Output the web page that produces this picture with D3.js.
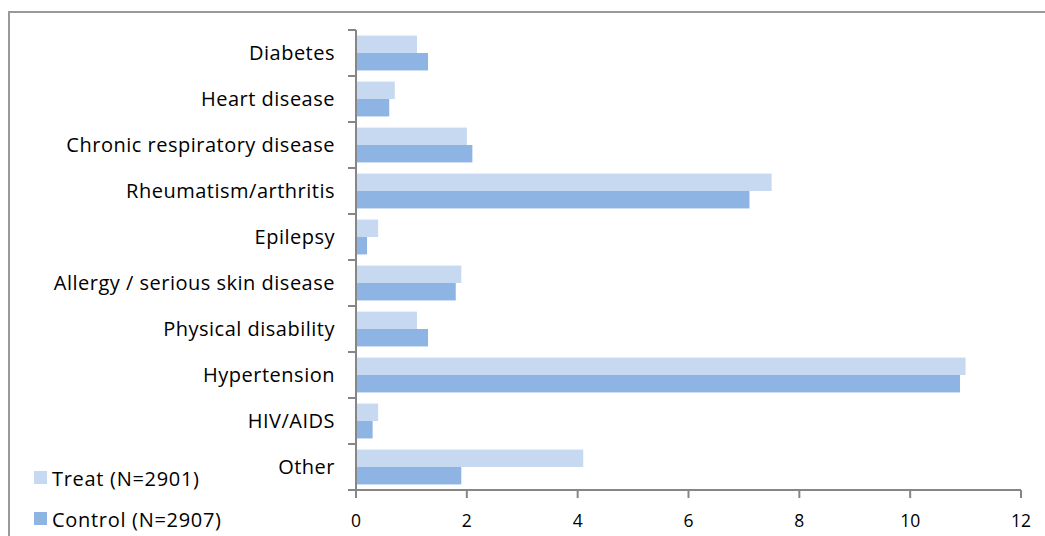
<!DOCTYPE html>
<html>
<head>
<meta charset="utf-8">
<script src="https://cdn.jsdelivr.net/npm/d3@7/dist/d3.min.js"></script>
<style>
  html, body { margin: 0; padding: 0; background: #fff; }
  svg { display: block; }
  text { font-family: "Open Sans", Lato, sans-serif; fill: #000; }
</style>
</head>
<body>
<svg id="chart" width="1045" height="536"></svg>
<script>
// Prevalence of chronic conditions (%), by study group
const categories = [
  "Diabetes",
  "Heart disease",
  "Chronic respiratory disease",
  "Rheumatism/arthritis",
  "Epilepsy",
  "Allergy / serious skin disease",
  "Physical disability",
  "Hypertension",
  "HIV/AIDS",
  "Other"
];
const treatValues   = [1.1, 0.7, 2.0, 7.5, 0.4, 1.9, 1.1, 11.0, 0.4, 4.1];
const controlValues = [1.3, 0.6, 2.1, 7.1, 0.2, 1.8, 1.3, 10.9, 0.3, 1.9];
const seriesNames   = ["Treat (N=2901)", "Control (N=2907)"];
const xTicks        = [0, 2, 4, 6, 8, 10, 12];

const colors = ["#c6d9f1", "#8eb4e3"];
const axisColor = "#868686";

const svg = d3.select("#chart");

// outer frame
svg.append("rect")
  .attr("x", 9).attr("y", 12)
  .attr("width", 1060).attr("height", 540)
  .attr("fill", "none")
  .attr("stroke", "#999")
  .attr("stroke-width", 2);

const plot = { left: 356, right: 1021, top: 30, bottom: 490 };

const x = d3.scaleLinear()
  .domain([0, 12])
  .range([plot.left, plot.right]);

const y = d3.scaleBand()
  .domain(categories)
  .range([plot.top, plot.bottom]);

const inner = d3.scaleBand()
  .domain([0, 1])
  .range([0, y.bandwidth()])
  .paddingInner(0)
  .paddingOuter(0.32);

const rows = categories.map((c, i) => ({ cat: c, vals: [treatValues[i], controlValues[i]] }));

const g = svg.append("g");
rows.forEach(r => {
  r.vals.forEach((v, s) => {
    g.append("rect")
      .attr("x", x(0))
      .attr("y", y(r.cat) + inner(s))
      .attr("width", x(v) - x(0))
      .attr("height", inner.bandwidth())
      .attr("fill", colors[s]);
  });
});

// category axis
const yAxisG = svg.append("g");
yAxisG.append("line")
  .attr("x1", plot.left).attr("x2", plot.left)
  .attr("y1", plot.top).attr("y2", plot.bottom)
  .attr("stroke", axisColor).attr("stroke-width", 2);
d3.range(categories.length + 1).forEach(i => {
  const yy = plot.top + i * y.step();
  yAxisG.append("line")
    .attr("x1", plot.left - 8).attr("x2", plot.left)
    .attr("y1", yy).attr("y2", yy)
    .attr("stroke", axisColor).attr("stroke-width", 2);
});
yAxisG.selectAll("text.cat")
  .data(categories)
  .join("text")
  .attr("class", "cat")
  .attr("x", 335)
  .attr("y", d => y(d) + y.bandwidth() / 2 + 6.5)
  .attr("text-anchor", "end")
  .style("font-size", "20px")
  .style("letter-spacing", "0.5px")
  .text(d => d);

// value axis
const xAxisG = svg.append("g");
xAxisG.append("line")
  .attr("x1", plot.left).attr("x2", plot.right)
  .attr("y1", plot.bottom).attr("y2", plot.bottom)
  .attr("stroke", axisColor).attr("stroke-width", 2);
xAxisG.selectAll("line.tick")
  .data(xTicks)
  .join("line")
  .attr("class", "tick")
  .attr("x1", d => x(d)).attr("x2", d => x(d))
  .attr("y1", plot.bottom).attr("y2", plot.bottom + 8)
  .attr("stroke", axisColor).attr("stroke-width", 2);
xAxisG.selectAll("text.tl")
  .data(xTicks)
  .join("text")
  .attr("class", "tl")
  .attr("x", d => x(d))
  .attr("y", 527)
  .attr("text-anchor", "middle")
  .style("font-size", "17.5px")
  .text(d => d);

// legend
const legend = svg.append("g");
seriesNames.forEach((name, i) => {
  const ly = 471 + i * 41;
  legend.append("rect")
    .attr("x", 34).attr("y", ly)
    .attr("width", 13).attr("height", 13)
    .attr("fill", colors[i]);
  legend.append("text")
    .attr("x", 52).attr("y", ly + 14.5)
    .style("font-size", "20px")
    .style("letter-spacing", "0.7px")
    .text(name);
});
</script>
</body>
</html>
